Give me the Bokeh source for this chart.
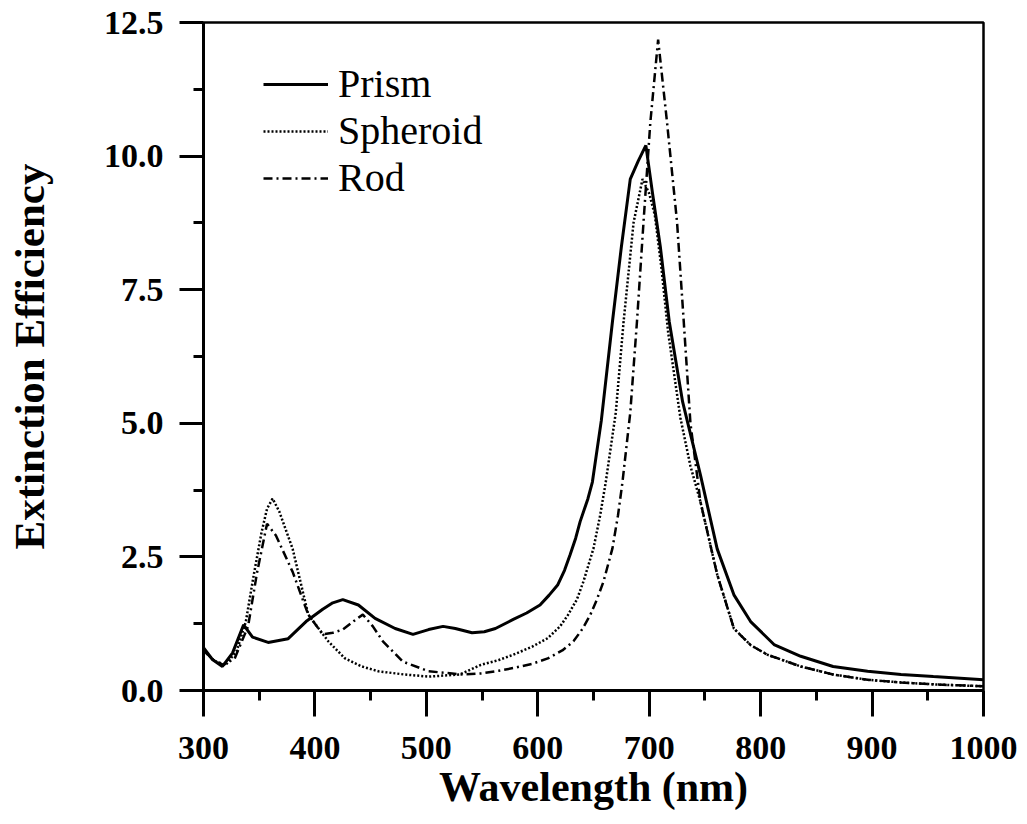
from bokeh.plotting import figure
from bokeh.models import Legend, LegendItem, FixedTicker, Range1d, PrintfTickFormatter
from bokeh.embed import file_html
from bokeh.resources import INLINE

# ---------------- data ----------------
prism_x = [300, 308, 317, 326, 336, 344, 358, 376, 392, 407, 416, 425, 439, 454, 472, 488, 502, 515, 526,
           541, 552, 562, 578, 590, 602, 610, 618, 624, 629, 634, 638, 645, 649, 657, 667, 675, 683, 690,
           697, 703, 710, 718, 730, 746, 761, 776, 791, 812, 836, 865, 896, 926, 955, 1000]
prism_y = [0.80, 0.58, 0.45, 0.70, 1.23, 1.00, 0.90, 0.97, 1.29, 1.52, 1.64, 1.70, 1.60, 1.35, 1.16, 1.05,
           1.14, 1.20, 1.16, 1.08, 1.10, 1.16, 1.33, 1.45, 1.60, 1.78, 1.98, 2.25, 2.54, 2.85, 3.16, 3.59,
           3.90, 5.05, 6.90, 8.30, 9.57, 9.90, 10.20, 9.30, 8.30, 6.90, 5.40, 4.03, 2.65, 1.79, 1.29, 0.86,
           0.64, 0.45, 0.36, 0.30, 0.26, 0.20]

spheroid_x = [300, 310, 320, 330, 338, 345, 352, 357, 362, 368, 380, 394, 412, 427, 442, 457, 480, 502, 530,
              549, 565, 578, 595, 609, 620, 627, 635, 641, 650, 656, 661, 670, 677, 686, 694, 700, 705, 711,
              717, 728, 737, 746, 761, 776, 791, 806, 836, 865, 896, 926, 960, 1000]
spheroid_y = [0.75, 0.55, 0.48, 0.75, 1.29, 2.15, 2.95, 3.40, 3.59, 3.35, 2.65, 1.42, 0.92, 0.60, 0.45, 0.36,
              0.30, 0.26, 0.30, 0.48, 0.57, 0.67, 0.82, 0.98, 1.20, 1.41, 1.70, 2.04, 2.66, 3.28, 3.90, 5.20,
              6.90, 8.76, 9.57, 9.30, 8.90, 7.90, 6.70, 5.10, 4.20, 3.53, 2.17, 1.16, 0.85, 0.67, 0.45, 0.30,
              0.20, 0.15, 0.11, 0.08]

rod_x = [300, 310, 318, 328, 340, 348, 357, 365, 380, 394, 407, 416, 425, 435, 443, 452, 461, 479, 502, 532,
         549, 565, 578, 595, 609, 622, 632, 640, 647, 653, 659, 667, 672, 676, 683, 689, 695, 701, 708, 716,
         725, 731, 737, 746, 761, 776, 791, 806, 836, 865, 896, 926, 960, 1000]
rod_y = [0.75, 0.55, 0.48, 0.60, 1.20, 2.20, 3.12, 2.90, 2.22, 1.42, 1.05, 1.08, 1.14, 1.30, 1.42, 1.20, 0.92,
         0.54, 0.36, 0.30, 0.32, 0.37, 0.42, 0.50, 0.60, 0.75, 0.92, 1.15, 1.41, 1.70, 2.04, 2.66, 3.28, 3.90,
         5.20, 6.90, 8.80, 10.63, 12.18, 10.63, 8.76, 6.90, 5.00, 3.53, 2.17, 1.16, 0.85, 0.67, 0.45, 0.30,
         0.20, 0.15, 0.11, 0.08]

series_names = ["Prism", "Spheroid", "Rod"]
x_ticks = [300, 400, 500, 600, 700, 800, 900, 1000]
x_minor = [350, 450, 550, 650, 750, 850, 950]
y_ticks = [0.0, 2.5, 5.0, 7.5, 10.0, 12.5]
y_minor = [1.25, 3.75, 6.25, 8.75, 11.25]
x_title = "Wavelength (nm)"
y_title = "Extinction Efficiency"

# ---------------- figure ----------------
SERIF = "Liberation Serif"

p = figure(width=1019, height=816,
           x_range=Range1d(300, 1000), y_range=Range1d(0, 12.5),
           output_backend="svg", toolbar_location=None,
           min_border_left=203, min_border_right=36,
           min_border_top=22, min_border_bottom=126)

p.grid.visible = False
p.background_fill_color = "white"
p.border_fill_color = "white"
p.outline_line_color = "black"
p.outline_line_width = 2.5

r_prism = p.line(prism_x, prism_y, line_color="black", line_width=3)
r_sph = p.line(spheroid_x, spheroid_y, line_color="black", line_width=2.5, line_dash="2 2")
r_rod = p.line(rod_x, rod_y, line_color="black", line_width=2.5, line_dash="9 4 2 4")

for ax in (p.xaxis[0], p.yaxis[0]):
    ax.axis_line_width = 3
    ax.axis_line_color = "black"
    ax.major_tick_line_width = 3
    ax.minor_tick_line_width = 3
    ax.major_tick_in = 0
    ax.minor_tick_in = 0
    ax.minor_tick_out = 10
    ax.major_label_text_font = SERIF
    ax.major_label_text_font_style = "bold"
    ax.major_label_text_font_size = "34px"
    ax.major_label_text_color = "black"
    ax.axis_label_text_font = SERIF
    ax.axis_label_text_font_style = "bold"
    ax.axis_label_text_font_size = "43px"
    ax.axis_label_text_color = "black"

p.xaxis.axis_label_text_font_size = "42px"
p.xaxis.ticker = FixedTicker(ticks=x_ticks, minor_ticks=x_minor)
p.yaxis.ticker = FixedTicker(ticks=y_ticks, minor_ticks=y_minor)
p.yaxis.formatter = PrintfTickFormatter(format="%.1f")

p.xaxis.major_tick_out = 26
p.yaxis.major_tick_out = 24
p.xaxis.major_label_standoff = 20
p.yaxis.major_label_standoff = 16
p.xaxis.axis_label = x_title
p.yaxis.axis_label = y_title
p.xaxis.axis_label_standoff = 2
p.yaxis.axis_label_standoff = 48

legend = Legend(items=[LegendItem(label=series_names[0], renderers=[r_prism]),
                       LegendItem(label=series_names[1], renderers=[r_sph]),
                       LegendItem(label=series_names[2], renderers=[r_rod])],
                location=(60, 489))
legend.background_fill_alpha = 0
legend.border_line_alpha = 0
legend.label_text_font = SERIF
legend.label_text_font_size = "40px"
legend.label_text_color = "black"
legend.glyph_width = 65
legend.label_standoff = 10
legend.spacing = 0
legend.padding = 0
legend.margin = 0
p.add_layout(legend)

open("out.html", "w").write(file_html(p, INLINE))
